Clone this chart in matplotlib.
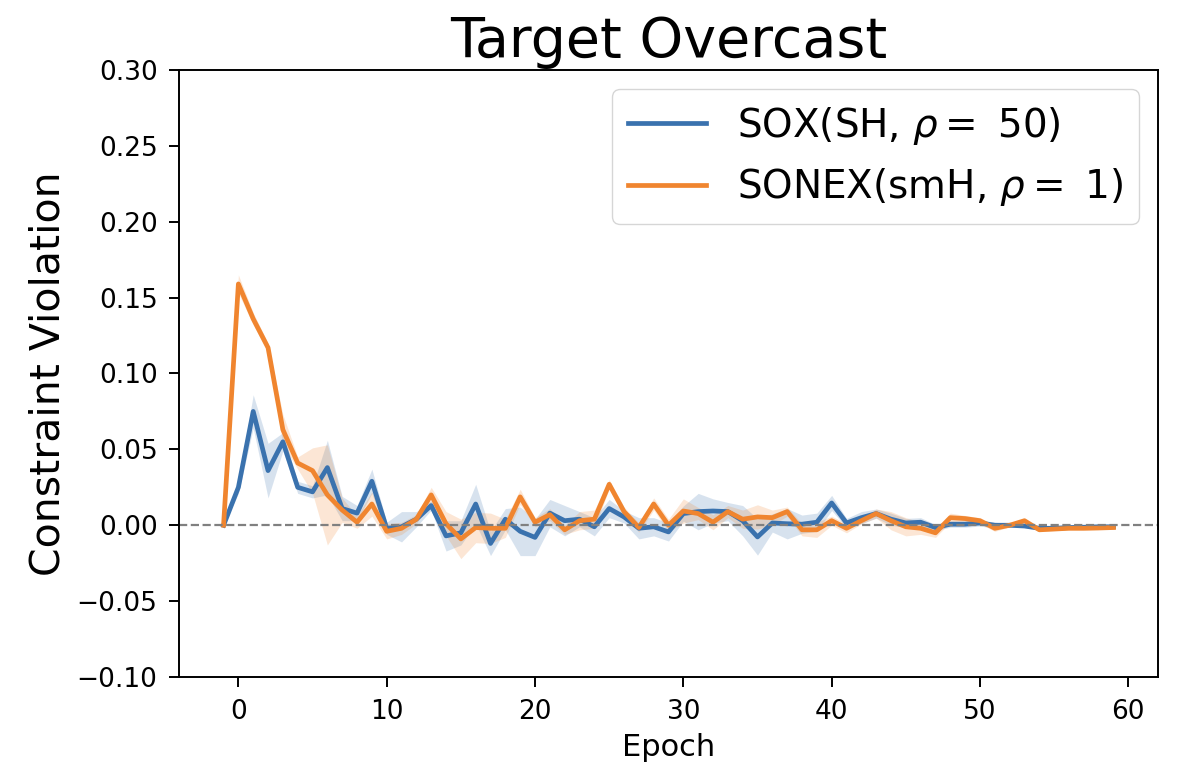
import matplotlib
matplotlib.use("Agg")
import matplotlib.pyplot as plt
import numpy as np

# epochs -1 .. 59
epochs = np.arange(-1, 60)

sox_mean = [
    0.000, 0.025, 0.075, 0.036, 0.055, 0.025, 0.022, 0.038, 0.011, 0.008,
    0.029, -0.002, -0.001, 0.004, 0.013, -0.007, -0.005, 0.014, -0.012, 0.004,
    -0.004, -0.008, 0.008, 0.003, 0.004, -0.001, 0.011, 0.0055, -0.002, -0.001,
    -0.0044, 0.0077, 0.009, 0.0094, 0.009, 0.003, -0.0077, 0.0015, 0.001, 0.0007,
    0.002, 0.0147, 0.0015, 0.005, 0.0077, 0.004, 0.0015, 0.002, -0.0015, 0.0007,
    0.0007, 0.0015, 0.000, 0.000, -0.0005, -0.002, -0.002, -0.0015, -0.0013, -0.001,
    -0.001,
]
sox_std = [
    0.000, 0.004, 0.011, 0.018, 0.006, 0.004, 0.004, 0.018, 0.008, 0.005,
    0.008, 0.004, 0.010, 0.005, 0.003, 0.010, 0.008, 0.013, 0.008, 0.007,
    0.016, 0.012, 0.009, 0.010, 0.005, 0.006, 0.006, 0.004, 0.007, 0.006,
    0.006, 0.005, 0.012, 0.008, 0.006, 0.010, 0.012, 0.006, 0.010, 0.006,
    0.006, 0.005, 0.003, 0.004, 0.003, 0.004, 0.003, 0.003, 0.002, 0.002,
    0.002, 0.002, 0.002, 0.001, 0.001, 0.001, 0.001, 0.001, 0.001, 0.001,
    0.001,
]
sonex_mean = [
    0.000, 0.159, 0.136, 0.117, 0.063, 0.041, 0.036, 0.020, 0.010, 0.002,
    0.014, -0.004, -0.002, 0.004, 0.020, 0.001, -0.009, -0.0015, -0.002, -0.002,
    0.0187, 0.002, 0.007, -0.003, 0.003, 0.004, 0.027, 0.009, -0.0015, 0.014,
    0.000, 0.0094, 0.0077, 0.002, 0.009, 0.004, 0.0055, 0.005, 0.009, -0.003,
    -0.003, 0.003, -0.002, 0.003, 0.0077, 0.003, -0.001, -0.002, -0.005, 0.005,
    0.0044, 0.003, -0.002, 0.000, 0.003, -0.003, -0.0025, -0.002, -0.002, -0.0018,
    -0.0015,
]
sonex_std = [
    0.000, 0.006, 0.004, 0.003, 0.010, 0.004, 0.015, 0.033, 0.008, 0.004,
    0.008, 0.005, 0.004, 0.003, 0.005, 0.008, 0.013, 0.010, 0.010, 0.006,
    0.005, 0.003, 0.004, 0.003, 0.006, 0.006, 0.003, 0.003, 0.003, 0.004,
    0.004, 0.008, 0.004, 0.005, 0.004, 0.006, 0.008, 0.005, 0.003, 0.004,
    0.005, 0.003, 0.003, 0.002, 0.003, 0.006, 0.006, 0.004, 0.003, 0.003,
    0.002, 0.002, 0.002, 0.001, 0.001, 0.001, 0.001, 0.001, 0.001, 0.001,
    0.001,
]

BLUE = "#3a72ae"
ORANGE = "#f0852f"

fig = plt.figure(figsize=(11.78, 7.74), dpi=100)
ax = fig.add_axes([0.152, 0.1253, 0.831, 0.7843])

for mean, std, col, lab in [
    (sox_mean, sox_std, BLUE, r"SOX(SH, $\rho=$ 50)"),
    (sonex_mean, sonex_std, ORANGE, r"SONEX(smH, $\rho=$ 1)"),
]:
    m = np.array(mean); s = np.array(std)
    ax.plot(epochs, m, color=col, lw=3.4, label=lab)
    ax.fill_between(epochs, m - s, m + s, color=col, alpha=0.2, lw=0)

ax.axhline(0, color="gray", ls="--", lw=1.6)
ax.set_ylim(-0.10, 0.30)
ax.set_yticks(np.arange(-0.10, 0.301, 0.05))
ax.set_title("Target Overcast", fontsize=40, pad=9)
ax.set_xlabel("Epoch", fontsize=22, labelpad=6)
ax.set_ylabel("Constraint Violation", fontsize=29.5, labelpad=6)
ax.tick_params(labelsize=19, width=1.4, length=7, pad=8.5)
for sp in ax.spines.values():
    sp.set_linewidth(1.4)
ax.legend(fontsize=28, loc="upper right", handlelength=2.0)

fig.savefig("out.png", dpi=100)
